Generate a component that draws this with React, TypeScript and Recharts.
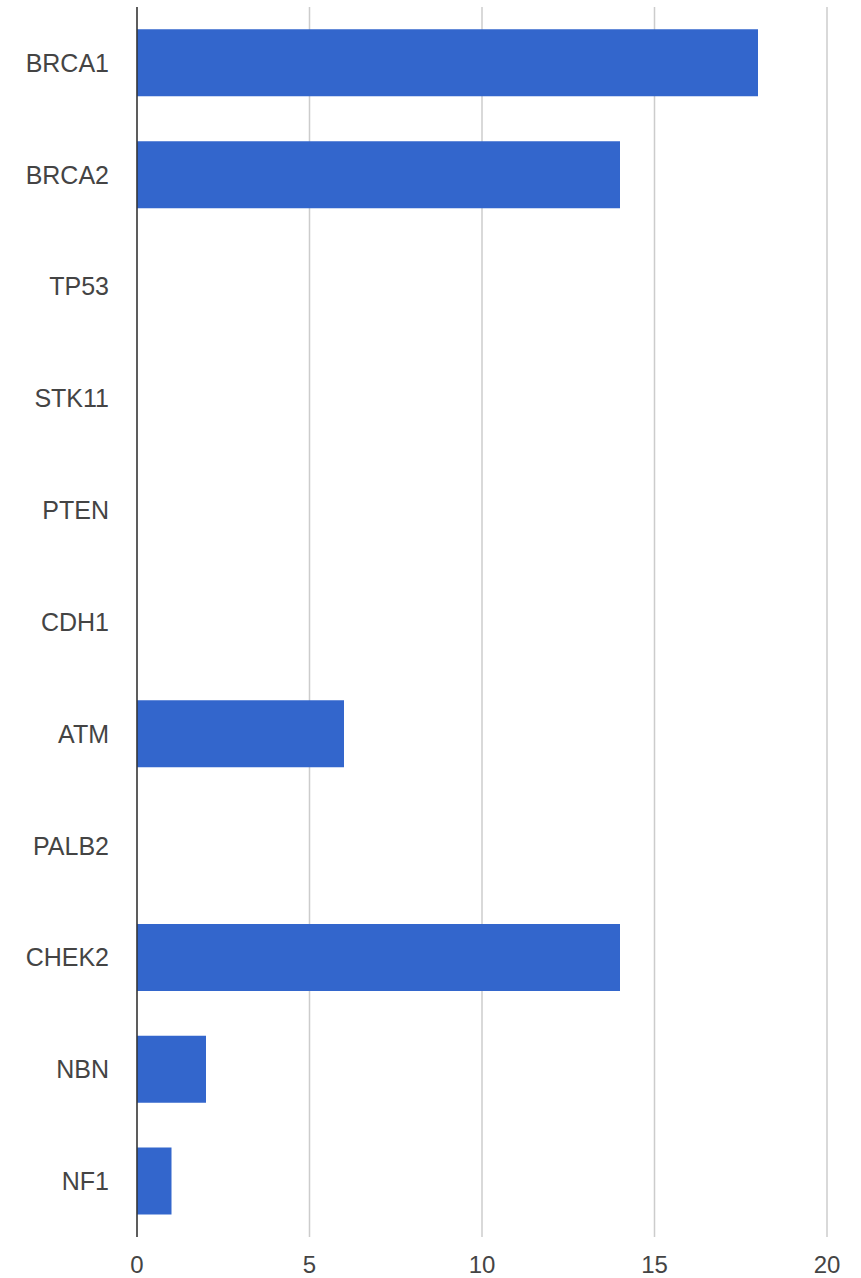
import { Bar, BarChart, CartesianGrid, XAxis, YAxis } from 'recharts'

const genes = ['BRCA1', 'BRCA2', 'TP53', 'STK11', 'PTEN', 'CDH1', 'ATM', 'PALB2', 'CHEK2', 'NBN', 'NF1']
const counts = [18, 14, 0, 0, 0, 0, 6, 0, 14, 2, 1]
const xTicks = [0, 5, 10, 15, 20]

const rows = genes.map((gene, i) => ({ gene, count: counts[i] }))

const tickStyle = { fill: '#444', fontSize: 24, fontFamily: 'Arial, "Liberation Sans", sans-serif' }

export default function App() {
  return (
    <div style={{ position: 'absolute', left: 0, top: 0, width: 861, height: 1278, background: '#fff' }}>
      <BarChart
        width={861}
        height={1278}
        data={rows}
        layout="vertical"
        margin={{ top: 7, right: 34, left: 0, bottom: 0 }}
        barCategoryGap="20%"
      >
        <CartesianGrid horizontal={false} stroke="#ccc" strokeWidth={1.5} />
        <XAxis
          type="number"
          domain={[0, 20]}
          ticks={xTicks}
          axisLine={false}
          tickLine={false}
          tickMargin={13}
          height={41}
          tick={tickStyle}
          interval={0}
        />
        <YAxis
          type="category"
          dataKey="gene"
          width={137}
          axisLine={{ stroke: '#333', strokeWidth: 1.5 }}
          tickLine={false}
          tickMargin={22}
          tick={{ ...tickStyle, fontSize: 25 }}
          interval={0}
        />
        <Bar dataKey="count" fill="#3366cc" isAnimationActive={false} />
      </BarChart>
    </div>
  )
}
